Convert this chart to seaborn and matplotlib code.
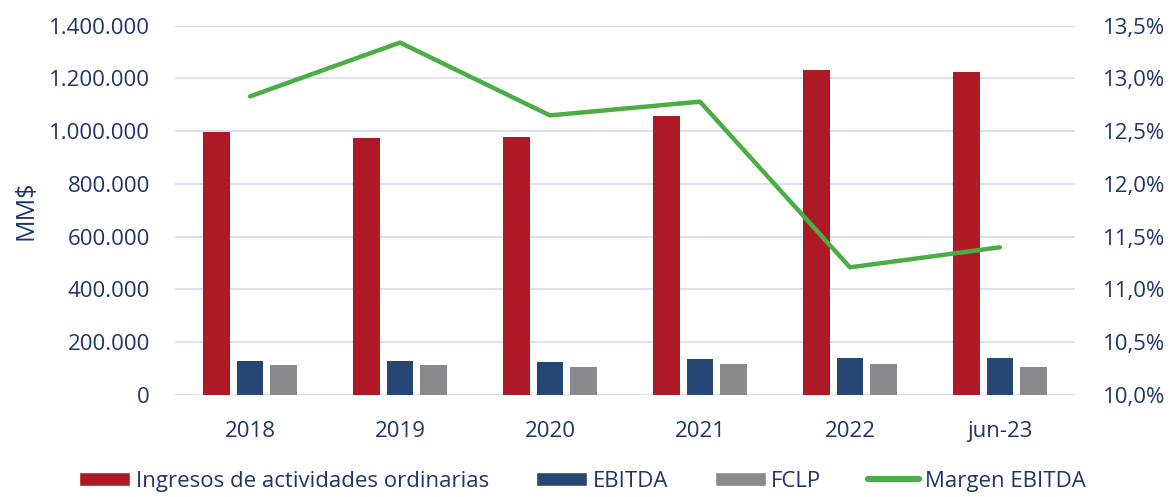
import pandas as pd
import numpy as np
import matplotlib
matplotlib.use('Agg')
import matplotlib.pyplot as plt
from matplotlib.ticker import FuncFormatter
from matplotlib.patches import Patch
from matplotlib.lines import Line2D
import seaborn as sns

# data
periods = ['2018', '2019', '2020', '2021', '2022', 'jun-23']
ingresos = [996000, 975000, 977000, 1056000, 1231000, 1223000]
ebitda = [128000, 130000, 124000, 135000, 139000, 140000]
fclp = [114000, 114000, 107000, 118000, 117000, 105000]
margen = [12.83, 13.34, 12.65, 12.78, 11.21, 11.40]

series_names = ['Ingresos de actividades ordinarias', 'EBITDA', 'FCLP']
bar_colors = ['#AD1A26', '#264673', '#8A8A8C']
line_color = '#4BAE45'
text_color = '#1F3567'
grid_color = '#DADDEE'

# long form table for seaborn
df = pd.DataFrame({
    'periodo': periods * 3,
    'valor': ingresos + ebitda + fclp,
    'serie': [series_names[0]] * 6 + [series_names[1]] * 6 + [series_names[2]] * 6,
})
df_line = pd.DataFrame({'periodo': periods, 'margen': margen})

sns.set_theme(style='white')
plt.rcParams['font.family'] = ['Open Sans', 'DejaVu Sans']
plt.rcParams['font.size'] = 16

fig = plt.figure(figsize=(11.72, 4.97), dpi=100)
ax1 = fig.add_axes([0.1493, 0.2052, 0.7679, 0.7431])

sns.barplot(data=df, x='periodo', y='valor', hue='serie', palette=bar_colors,
            width=0.67, gap=0.22, ax=ax1, legend=False, saturation=1,
            linewidth=0)
ax1.set_ylim(0, 1400000)
ax1.set_yticks(np.arange(0, 1400001, 200000))
ax1.yaxis.set_major_formatter(FuncFormatter(lambda v, p: f'{int(v):,}'.replace(',', '.')))
ax1.set_xlim(-0.5, 5.5)
ax1.grid(axis='y', color=grid_color, linewidth=1.3)
ax1.set_axisbelow(True)
ax1.set_xlabel('')
ax1.set_ylabel('MM$', color=text_color, fontsize=18)
ax1.yaxis.set_label_coords(-0.152, 0.5)
ax1.tick_params(axis='both', length=0, labelcolor=text_color, labelsize=16)
ax1.tick_params(axis='y', pad=18)
ax1.tick_params(axis='x', pad=19)
for s in ax1.spines.values():
    s.set_visible(False)

ax2 = ax1.twinx()
sns.lineplot(data=df_line, x='periodo', y='margen', color=line_color, linewidth=3.2,
             sort=False, ax=ax2, solid_capstyle='round')
ax2.set_ylim(10.0, 13.5)
ax2.set_yticks(np.arange(10.0, 13.51, 0.5))
ax2.yaxis.set_major_formatter(FuncFormatter(lambda v, p: f'{v:.1f}%'.replace('.', ',')))
ax2.set_xlim(-0.5, 5.5)
ax2.set_ylabel('')
ax2.set_xlabel('')
ax2.tick_params(axis='y', length=0, labelcolor=text_color, labelsize=16, pad=20)
for s in ax2.spines.values():
    s.set_visible(False)

handles = [Patch(facecolor=c) for c in bar_colors] + [Line2D([0], [0], color=line_color, linewidth=4.5)]
labels = series_names + ['Margen EBITDA']
fig.legend(handles, labels, loc='lower center', bbox_to_anchor=(0.497, -0.03), ncol=4,
           frameon=False, fontsize=16, labelcolor=text_color, handlelength=2.3,
           handleheight=0.6, handletextpad=0.25, columnspacing=2.1)

fig.savefig('out.png', dpi=100)
